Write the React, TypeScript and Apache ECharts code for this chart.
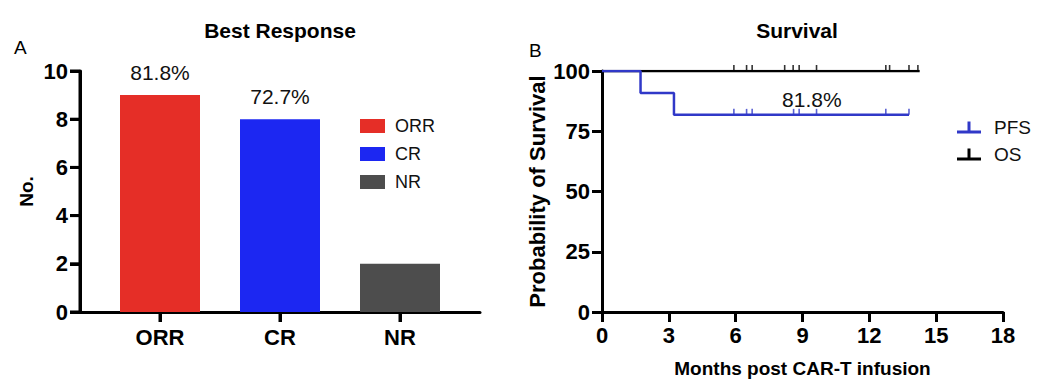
import React, { useEffect, useRef } from "react";
import * as echarts from "echarts";

// ---- Data: Best Response ----
const responseCategories = ["ORR", "CR", "NR"];
const responseCounts = [9, 8, 2];
const responsePctLabels = ["81.8%", "72.7%", ""];
const responseColors = ["#E52E27", "#1C27F2", "#4D4D4D"];
const countTicks = [0, 2, 4, 6, 8, 10];

// ---- Data: Survival (Kaplan-Meier) ----
const pfsTimes = [0, 1.73, 3.23, 13.78];
const pfsValues = [100, 90.9, 81.8, 81.8];
const pfsCensorTimes = [5.92, 6.49, 6.74, 8.6, 8.85, 9.63, 12.74, 13.78];
const osTimes = [0, 14.26];
const osValues = [100, 100];
const osCensorTimes = [5.92, 6.49, 6.74, 8.2, 8.58, 8.85, 9.63, 12.74, 12.91, 13.78, 14.18];
const monthTicks = [0, 3, 6, 9, 12, 15, 18];
const survivalTicks = [0, 25, 50, 75, 100];
const pfsAnnotation = { month: 9.42, value: 81.8, text: "81.8%" };

const FONT = "'Liberation Sans', Arial, Helvetica, sans-serif";
const PFS_COLOR = "#3038C8";

// category slot i sits at axis value 2 + 3*i on a 0..10 axis
const slotOf = (i: number) => 2 + 3 * i;

export default function App() {
  const ref = useRef<HTMLDivElement>(null);

  useEffect(() => {
    document.body.style.margin = "0";
    if (!ref.current) return;
    const chart = echarts.init(ref.current, undefined, { renderer: "svg" });

    const mkLine = () => ({ show: true, onZero: false, lineStyle: { color: "#000", width: 3 } });
    const mkTick = () => ({ show: true, length: 10, lineStyle: { color: "#000", width: 3 } });
    const boldLabel = () => ({ color: "#000", fontWeight: "bold", fontSize: 22, fontFamily: FONT });
    const tickSlots = responseCategories.map((_, i) => slotOf(i));
    const labelSlots = responseCategories.map((_, i) => slotOf(i));

    const barSeries = responseCategories.map((cat, i) => ({
      name: cat,
      type: "bar",
      xAxisIndex: 0,
      yAxisIndex: 0,
      barWidth: 80,
      barGap: "-100%",
      itemStyle: { color: responseColors[i] },
      label: {
        show: responsePctLabels[i] !== "",
        position: "top",
        distance: 12,
        formatter: responsePctLabels[i],
        color: "#111",
        fontSize: 21,
        fontFamily: FONT,
      },
      data: [[slotOf(i), responseCounts[i]]],
    }));

    const tickIcon = "path://M0,9h24v3h-24z M10.5,0h3v10h-3z";

    const option: any = {
      animation: false,
      textStyle: { fontFamily: FONT },
      title: [
        { text: "Best Response", left: 280, top: 20, textAlign: "center", padding: 0,
          textStyle: { fontSize: 21, fontWeight: "bold", color: "#000", fontFamily: FONT } },
        { text: "Survival", left: 797, top: 20, textAlign: "center", padding: 0,
          textStyle: { fontSize: 21, fontWeight: "bold", color: "#000", fontFamily: FONT } },
        { text: "A", left: 14, top: 38, padding: 0,
          textStyle: { fontSize: 19, fontWeight: "normal", color: "#000", fontFamily: FONT } },
        { text: "B", left: 529, top: 41, padding: 0,
          textStyle: { fontSize: 19, fontWeight: "normal", color: "#000", fontFamily: FONT } },
      ],
      legend: [
        {
          data: responseCategories,
          orient: "vertical",
          left: 355,
          top: 112,
          itemWidth: 25,
          itemHeight: 14,
          itemGap: 10,
          icon: "rect",
          selectedMode: false,
          textStyle: { fontSize: 18, color: "#111", fontFamily: FONT, padding: [0, 0, 0, 5] },
        },
        {
          data: [
            { name: "PFS", icon: tickIcon, itemStyle: { color: PFS_COLOR, borderWidth: 0 } },
            { name: "OS", icon: tickIcon, itemStyle: { color: "#000", borderWidth: 0 } },
          ],
          orient: "vertical",
          left: 952,
          top: 113,
          itemWidth: 24,
          itemHeight: 12,
          itemGap: 8,
          selectedMode: false,
          itemStyle: { borderWidth: 0 },
          textStyle: { fontSize: 19, color: "#111", fontFamily: FONT, padding: [0, 0, 0, 8] },
        },
      ],
      grid: [
        { left: 80, top: 71, width: 400, height: 241 },
        { left: 602, top: 71, width: 401, height: 241 },
      ],
      xAxis: [
        {
          type: "value",
          gridIndex: 0,
          min: 0,
          max: 10,
          splitLine: { show: false },
          axisLine: mkLine(),
          axisTick: { ...mkTick(), customValues: tickSlots },
          axisLabel: {
            ...boldLabel(),
            margin: 14,
            customValues: labelSlots,
            formatter: (v: number) => responseCategories[labelSlots.indexOf(v)] ?? "",
          },
        },
        {
          type: "value",
          gridIndex: 1,
          min: monthTicks[0],
          max: monthTicks[monthTicks.length - 1],
          interval: 3,
          splitLine: { show: false },
          axisLine: mkLine(),
          axisTick: mkTick(),
          axisLabel: { ...boldLabel(), margin: 12 },
          name: "Months post CAR-T infusion",
          nameLocation: "middle",
          nameGap: 47,
          nameTextStyle: { fontSize: 19, fontWeight: "bold", color: "#000", fontFamily: FONT },
        },
      ],
      yAxis: [
        {
          type: "value",
          gridIndex: 0,
          min: countTicks[0],
          max: countTicks[countTicks.length - 1],
          interval: 2,
          splitLine: { show: false },
          axisLine: mkLine(),
          axisTick: mkTick(),
          axisLabel: { ...boldLabel(), margin: 12 },
          name: "No.",
          nameLocation: "middle",
          nameGap: 44,
          nameTextStyle: { fontSize: 19, fontWeight: "bold", color: "#000", fontFamily: FONT },
        },
        {
          type: "value",
          gridIndex: 1,
          min: survivalTicks[0],
          max: survivalTicks[survivalTicks.length - 1],
          interval: 25,
          splitLine: { show: false },
          axisLine: mkLine(),
          axisTick: mkTick(),
          axisLabel: { ...boldLabel(), margin: 12 },
          name: "Probability of Survival",
          nameLocation: "middle",
          nameGap: 54,
          nameTextStyle: { fontSize: 22, fontWeight: "bold", color: "#000", fontFamily: FONT },
        },
      ],
      series: [
        ...barSeries,
        {
          name: "OS",
          type: "line",
          xAxisIndex: 1,
          yAxisIndex: 1,
          step: "end",
          symbol: "none",
          z: 3,
          lineStyle: { color: "#000", width: 2.5 },
          itemStyle: { color: "#000" },
          data: osTimes.map((t, i) => [t, osValues[i]]),
        },
        {
          name: "PFS",
          type: "line",
          xAxisIndex: 1,
          yAxisIndex: 1,
          step: "end",
          symbol: "none",
          z: 4,
          lineStyle: { color: PFS_COLOR, width: 2.5 },
          itemStyle: { color: PFS_COLOR },
          data: pfsTimes.map((t, i) => [t, pfsValues[i]]),
          markPoint: {
            symbol: "circle",
            symbolSize: 0,
            silent: true,
            label: {
              show: true,
              position: "top",
              distance: 5,
              formatter: pfsAnnotation.text,
              color: "#111",
              fontSize: 21,
              fontFamily: FONT,
            },
            data: [{ coord: [pfsAnnotation.month, pfsAnnotation.value] }],
          },
        },
        {
          name: "OS censored",
          type: "scatter",
          xAxisIndex: 1,
          yAxisIndex: 1,
          symbol: "rect",
          symbolSize: [1.6, 6],
          symbolOffset: [0, -3],
          z: 5,
          itemStyle: { color: "#000" },
          data: osCensorTimes.map((t) => [t, 100]),
        },
        {
          name: "PFS censored",
          type: "scatter",
          xAxisIndex: 1,
          yAxisIndex: 1,
          symbol: "rect",
          symbolSize: [1.6, 6],
          symbolOffset: [0, -3],
          z: 5,
          itemStyle: { color: PFS_COLOR },
          data: pfsCensorTimes.map((t) => [t, 81.8]),
        },
      ],
    };

    chart.setOption(option);

    // Reinforce the left panel's y-axis line and ticks (and category ticks)
    // using positions converted through the chart's own scales.
    const toPx = (pt: number[]) => chart.convertToPixel({ gridIndex: 0 } as any, pt) as unknown as number[];
    const yMin = countTicks[0];
    const yMax = countTicks[countTicks.length - 1];
    const bottom = toPx([0, yMin]);
    const top = toPx([0, yMax]);
    const stroke = { stroke: "#000", lineWidth: 3 };
    const elements: any[] = [];
    if (bottom && top && isFinite(bottom[0]) && isFinite(top[1])) {
      elements.push({
        type: "line", z: 100, silent: true,
        shape: { x1: bottom[0], y1: bottom[1] + 1.5, x2: top[0], y2: top[1] },
        style: stroke,
      });
      countTicks.forEach((v) => {
        const p = toPx([0, v]);
        elements.push({
          type: "line", z: 100, silent: true,
          shape: { x1: p[0] - 10, y1: p[1], x2: p[0], y2: p[1] },
          style: stroke,
        });
      });
      tickSlots.forEach((s) => {
        const p = toPx([s, yMin]);
        elements.push({
          type: "line", z: 100, silent: true,
          shape: { x1: p[0], y1: p[1], x2: p[0], y2: p[1] + 10 },
          style: stroke,
        });
      });
      chart.setOption({ graphic: elements });
    }

    return () => chart.dispose();
  }, []);

  return <div ref={ref} style={{ width: 1054, height: 390 }} />;
}
